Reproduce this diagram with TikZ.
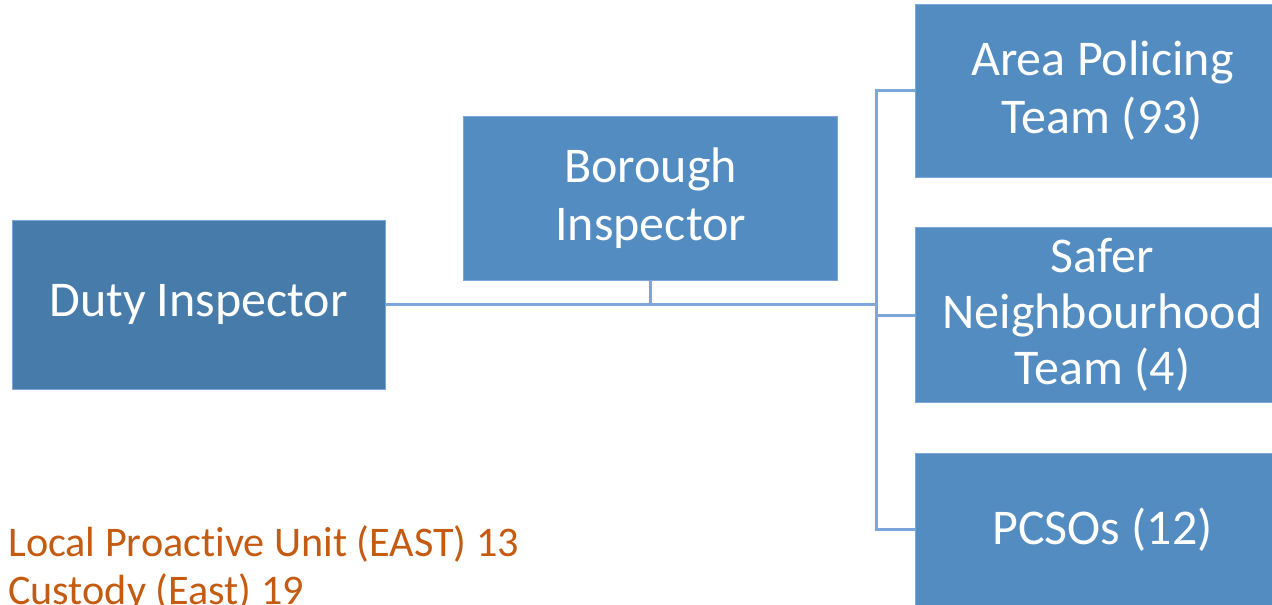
\documentclass[tikz,border=0pt]{standalone}
\usepackage{fontspec}
\setmainfont{Carlito}[Ligatures=NoCommon]
\usetikzlibrary{positioning}
\definecolor{unitblue}{HTML}{538CC1}
\definecolor{dutyblue}{HTML}{477CAA}
\definecolor{linkblue}{HTML}{7BA7DB}
\definecolor{noteorange}{HTML}{C55A11}

\begin{document}
\begin{tikzpicture}[node distance=1cm, auto,
    unit/.style={draw=linkblue, line width=0.4pt, fill=unitblue, text=white, align=center, inner sep=0pt, minimum width=7.48cm, font=\fontsize{28.45pt}{33pt}\selectfont},
    link/.style={draw=linkblue, line width=1.7pt},
    note/.style={text=noteorange, inner sep=0pt, font=\fontsize{24pt}{28pt}\selectfont}]
        \useasboundingbox (-3.97,-5.99) rectangle (21.47,6.09);

        % Nodes
        \node [unit, fill=dutyblue, minimum width=7.46cm, minimum height=3.38cm] (duty) {Duty Inspector};
        \node [unit, minimum height=3.28cm, right=1.56cm of duty, yshift=2.13cm] (borough) {Borough\\Inspector};
        \node [unit, minimum height=3.46cm, right=1.54cm of borough, yshift=2.15cm] (apt) {Area Policing\\Team (93)};
        \node [unit, minimum height=3.5cm, below=of apt, font=\fontsize{28.45pt}{31.9pt}\selectfont] (snt) {Safer\\Neighbourhood\\Team (4)};
        \node [unit, minimum height=3.04cm, below=of snt] (pcso) {PCSOs (12)};

        % Orange notes
        \node [note, anchor=base west] (lpu) at (-3.81,-5.03) {Local Proactive Unit (EAST) 13};
        \node [note, anchor=base west] (custody) at ([yshift=-0.96cm]lpu.base west) {Custody (East) 19};

        % Links
        \coordinate (bus) at ([xshift=-0.78cm]apt.west |- duty.east);
        \draw[link] (duty.east) -- (bus);
        \draw[link] (borough.south) -- (borough.south |- bus);
        \draw[link] (apt.west) -| (bus) |- (pcso.west);
        \draw[link] (bus |- snt.west) -- (snt.west);
    \end{tikzpicture}
\end{document}
